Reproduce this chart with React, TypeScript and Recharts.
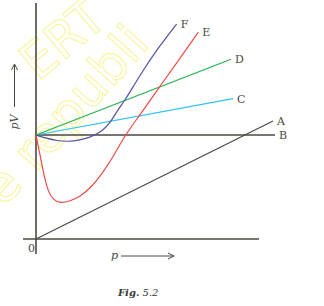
import { LineChart, Line, XAxis, YAxis, ReferenceLine, ReferenceDot } from 'recharts';

// p (x) and pV (y); pV = 1 is the ideal-gas level
const lineA = [{ p: 0, pv: 0 }, { p: 9.875, pv: 1.135 }];
const lineB = [{ p: 0, pv: 1 }, { p: 9.96, pv: 1 }];
const lineC = [{ p: 0, pv: 1 }, { p: 8.21, pv: 1.349 }];
const lineD = [{ p: 0, pv: 1 }, { p: 8.125, pv: 1.728 }];
const curveE = [
  { p: 0, pv: 1.0 },
  { p: 0.096, pv: 0.888 },
  { p: 0.238, pv: 0.728 },
  { p: 0.375, pv: 0.567 },
  { p: 0.513, pv: 0.455 },
  { p: 0.721, pv: 0.375 },
  { p: 1.0, pv: 0.343 },
  { p: 1.417, pv: 0.365 },
  { p: 1.833, pv: 0.407 },
  { p: 2.25, pv: 0.488 },
  { p: 2.667, pv: 0.599 },
  { p: 3.22, pv: 0.791 },
  { p: 3.71, pv: 1.0 },
  { p: 4.33, pv: 1.192 },
  { p: 5.17, pv: 1.471 },
  { p: 6.0, pv: 1.738 },
  { p: 6.76, pv: 1.988 },
];
const curveF = [
  { p: 0, pv: 1.0 },
  { p: 0.446, pv: 0.968 },
  { p: 0.863, pv: 0.945 },
  { p: 1.346, pv: 0.936 },
  { p: 1.833, pv: 0.952 },
  { p: 2.25, pv: 0.978 },
  { p: 2.458, pv: 1.0 },
  { p: 2.8, pv: 1.048 },
  { p: 3.08, pv: 1.113 },
  { p: 3.36, pv: 1.224 },
  { p: 3.71, pv: 1.337 },
  { p: 4.05, pv: 1.464 },
  { p: 4.47, pv: 1.625 },
  { p: 5.03, pv: 1.817 },
  { p: 5.45, pv: 1.945 },
  { p: 5.86, pv: 2.067 },
];
const endLabels = [
  { name: 'F', p: 5.86, pv: 2.067 },
  { name: 'E', p: 6.76, pv: 1.988 },
  { name: 'D', p: 8.125, pv: 1.728 },
  { name: 'C', p: 8.21, pv: 1.349 },
  { name: 'A', p: 9.875, pv: 1.135 },
  { name: 'B', p: 9.96, pv: 1 },
];

const axisColor = '#4a4840';
const textColor = '#4a4840';
const serif = '"DejaVu Serif", "Liberation Serif", serif';

export default function App() {
  return (
    <div style={{ position: 'absolute', left: 0, top: 0, width: 324, height: 306, background: '#fff', overflow: 'hidden' }}>
      {/* faint outlined watermark */}
      <svg width={324} height={306} style={{ position: 'absolute', left: 0, top: 0 }}>
        <g fontFamily='"DejaVu Sans", sans-serif' fontSize={50} fill="none" stroke="#f9f5a4" strokeWidth={1.2}>
          <text x={38} y={82} transform="rotate(-40 38 82)">ERT</text>
          <text x={4} y={208} transform="rotate(-48 4 208)">e republi</text>
        </g>
      </svg>
      <LineChart width={324} height={306} margin={{ top: 0, right: 0, bottom: 0, left: 0 }} style={{ position: 'absolute', left: 0, top: 0 }}>
        <XAxis dataKey="p" type="number" domain={[-1.5, 12]} hide allowDataOverflow />
        <YAxis dataKey="pv" type="number" domain={[-0.644, 2.298]} hide allowDataOverflow />
        <ReferenceLine segment={[{ x: -0.54, y: 0 }, { x: 9.29, y: 0 }]} stroke={axisColor} strokeWidth={1.6} />
        <ReferenceLine segment={[{ x: 0, y: -0.144 }, { x: 0, y: 2.27 }]} stroke={axisColor} strokeWidth={1.6} />
        <Line data={lineB} dataKey="pv" type="linear" stroke="#4a4840" strokeWidth={1.4} dot={false} activeDot={false} isAnimationActive={false} />
        <Line data={lineA} dataKey="pv" type="linear" stroke="#4a4840" strokeWidth={1.2} dot={false} activeDot={false} isAnimationActive={false} />
        <Line data={lineC} dataKey="pv" type="linear" stroke="#28c4f4" strokeWidth={1.2} dot={false} activeDot={false} isAnimationActive={false} />
        <Line data={lineD} dataKey="pv" type="linear" stroke="#22b04c" strokeWidth={1.2} dot={false} activeDot={false} isAnimationActive={false} />
        <Line data={curveE} dataKey="pv" type="basis" stroke="#f04848" strokeWidth={1.2} dot={false} activeDot={false} isAnimationActive={false} />
        <Line data={curveF} dataKey="pv" type="basis" stroke="#5252a0" strokeWidth={1.2} dot={false} activeDot={false} isAnimationActive={false} />
        {endLabels.map((l) => (
          <ReferenceDot
            key={l.name}
            x={l.p}
            y={l.pv}
            r={0}
            fill="none"
            stroke="none"
            label={{ value: l.name, position: 'right', offset: 4, fill: textColor, fontSize: 11, fontFamily: serif }}
          />
        ))}
      </LineChart>
      <svg width={324} height={306} style={{ position: 'absolute', left: 0, top: 0, pointerEvents: 'none' }}>
        <text x={28} y={252} fontSize={11} fontFamily={serif} fill={textColor}>0</text>
        <text x={18} y={122} fontSize={11} fontFamily={serif} fontStyle="italic" fill={textColor} textAnchor="middle" transform="rotate(-90 18 122)">pV</text>
        <line x1={14.5} y1={107} x2={14.5} y2={65} stroke={textColor} strokeWidth={1} />
        <polyline points="11.5,70 14.5,64 17.5,70" fill="none" stroke={textColor} strokeWidth={1} />
        <text x={111} y={259} fontSize={11} fontFamily={serif} fontStyle="italic" fill={textColor}>p</text>
        <line x1={121} y1={256} x2={174} y2={256} stroke={textColor} strokeWidth={1} />
        <polyline points="168,253 174,256 168,259" fill="none" stroke={textColor} strokeWidth={1} />
        <text x={118} y={296} fontSize={10} fontFamily={serif} fontStyle="italic" fill="#3a3a3a">
          <tspan fontWeight="bold">Fig.</tspan> 5.2
        </text>
      </svg>
    </div>
  );
}
